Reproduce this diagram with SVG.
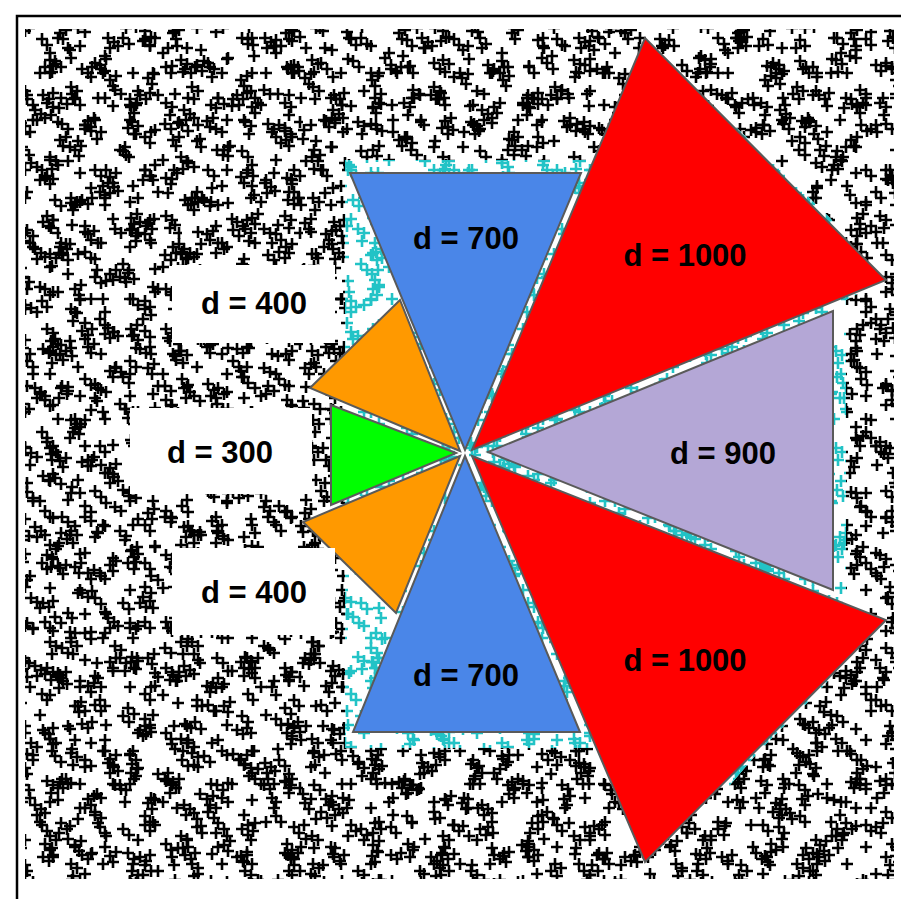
<svg xmlns="http://www.w3.org/2000/svg" xmlns:xlink="http://www.w3.org/1999/xlink" width="901" height="899" viewBox="0 0 901 899">
<style>
.k{stroke:#000;stroke-width:2.6;fill:none}
.cy{stroke:#22c3c6;stroke-width:2.6;fill:none}
.sh{stroke:#5a5a5a;stroke-width:2;stroke-linejoin:miter}
.lbl{font-family:"Liberation Sans",Arial,Helvetica,sans-serif;font-weight:bold;font-size:31px;fill:#000;text-anchor:middle}
</style>
<defs>
<path id="ca" d="M8 12h12M14 6v12M14 16h12M20 10v12M12 24h12M18 18v12M49 30h12M55 24v12M55 27h12M61 21v12M52 36h12M58 30v12M84 60h12M90 54v12M90 66h12M96 60v12M29 70h12M35 64v12M74 15h12M80 9v12M14 88h12M20 82v12M64 95h12M70 89v12M39 50h12M45 44v12M94 95h12M100 89v12"/>
<path id="cb" d="M4 40h12M10 34v12M10 44h12M16 38v12M6 52h12M12 46v12M39 12h12M45 6v12M64 60h12M70 54v12M70 56h12M76 50v12M67 66h12M73 60v12M99 20h12M105 14v12M104 26h12M110 20v12M112 75h12M118 69v12M34 85h12M40 79v12M84 85h12M90 79v12M24 30h12M30 24v12"/>
<path id="cc" d="M24 10h12M30 4v12M29 16h12M35 10v12M64 40h12M70 34v12M70 44h12M76 38v12M74 38h12M80 32v12M9 70h12M15 64v12M15 76h12M21 70v12M44 95h12M50 89v12M50 100h12M56 94v12M79 110h12M85 104v12M4 118h12M10 112v12M54 65h12M60 59v12"/>
<path id="cd" d="M14 30h12M20 24v12M20 34h12M26 28v12M16 40h12M22 34v12M24 38h12M30 32v12M94 10h12M100 4v12M100 14h12M106 8v12M54 70h12M60 64v12M60 66h12M66 60v12M58 76h12M64 70v12M124 90h12M130 84v12M130 96h12M136 90v12M122 100h12M128 94v12M34 120h12M40 114v12M40 126h12M46 120v12M84 115h12M90 109v12M134 50h12M140 44v12M74 40h12M80 34v12M4 90h12M10 84v12"/>
<pattern id="pA" width="113" height="107" x="5" y="3" patternUnits="userSpaceOnUse"><use href="#ca" class="k"/></pattern>
<pattern id="pB" width="131" height="97" x="40" y="20" patternUnits="userSpaceOnUse"><use href="#cb" class="k"/></pattern>
<pattern id="pC" width="97" height="127" x="70" y="55" patternUnits="userSpaceOnUse"><use href="#cc" class="k"/></pattern>
<pattern id="pD" width="149" height="139" x="15" y="80" patternUnits="userSpaceOnUse"><use href="#cd" class="k"/></pattern>
<pattern id="pE" width="121" height="111" x="61" y="47" patternUnits="userSpaceOnUse"><use href="#cb" class="k"/></pattern>
<pattern id="pF" width="119" height="113" x="33" y="91" patternUnits="userSpaceOnUse"><use href="#ca" class="k"/></pattern>
<pattern id="pG" width="103" height="131" x="12" y="29" patternUnits="userSpaceOnUse"><use href="#cc" class="k"/></pattern>
<pattern id="pH" width="157" height="145" x="88" y="8" patternUnits="userSpaceOnUse"><use href="#cd" class="k"/></pattern>
<pattern id="qA" width="113" height="107" x="5" y="3" patternUnits="userSpaceOnUse"><use href="#ca" class="cy"/></pattern>
<pattern id="qB" width="131" height="97" x="40" y="20" patternUnits="userSpaceOnUse"><use href="#cb" class="cy"/></pattern>
<pattern id="qC" width="97" height="127" x="70" y="55" patternUnits="userSpaceOnUse"><use href="#cc" class="cy"/></pattern>
<pattern id="qD" width="149" height="139" x="15" y="80" patternUnits="userSpaceOnUse"><use href="#cd" class="cy"/></pattern>
<pattern id="qE" width="121" height="111" x="61" y="47" patternUnits="userSpaceOnUse"><use href="#cb" class="cy"/></pattern>
<pattern id="qF" width="119" height="113" x="33" y="91" patternUnits="userSpaceOnUse"><use href="#ca" class="cy"/></pattern>
<pattern id="qG" width="103" height="131" x="12" y="29" patternUnits="userSpaceOnUse"><use href="#cc" class="cy"/></pattern>
<pattern id="qH" width="157" height="145" x="88" y="8" patternUnits="userSpaceOnUse"><use href="#cd" class="cy"/></pattern>
<clipPath id="cyclip"><polygon points="345,160 600,160 720,112 760,150 830,218 880,282 846,300 846,600 880,620 820,690 760,750 730,785 600,748 345,748"/></clipPath>
<clipPath id="area"><rect x="25" y="29" width="869" height="850"/></clipPath>
</defs>
<rect x="0" y="0" width="901" height="899" fill="#fff"/>
<g id="scatter" clip-path="url(#area)">
<rect x="0" y="0" width="901" height="899" fill="url(#pA)"/>
<rect x="0" y="0" width="901" height="899" fill="url(#pB)"/>
<rect x="0" y="0" width="901" height="899" fill="url(#pC)"/>
<rect x="0" y="0" width="901" height="899" fill="url(#pD)"/>
<rect x="0" y="0" width="901" height="899" fill="url(#pE)"/>
<rect x="0" y="0" width="901" height="899" fill="url(#pF)"/>
<rect x="0" y="0" width="901" height="899" fill="url(#pG)"/>
<rect x="0" y="0" width="901" height="899" fill="url(#pH)"/>
</g>
<g id="scatter-cyan" clip-path="url(#cyclip)">
<rect x="0" y="0" width="901" height="899" fill="#fff"/>
<rect x="0" y="0" width="901" height="899" fill="url(#qA)"/>
<rect x="0" y="0" width="901" height="899" fill="url(#qB)"/>
<rect x="0" y="0" width="901" height="899" fill="url(#qC)"/>
<rect x="0" y="0" width="901" height="899" fill="url(#qD)"/>
<rect x="0" y="0" width="901" height="899" fill="url(#qE)"/>
<rect x="0" y="0" width="901" height="899" fill="url(#qF)"/>
<rect x="0" y="0" width="901" height="899" fill="url(#qG)"/>
<rect x="0" y="0" width="901" height="899" fill="url(#qH)"/>
</g>
<path id="frame" d="M17 899V16H901" fill="none" stroke="#000" stroke-width="2.5"/>
<g id="sector-blue-top"><polygon class="sh" fill="#4a86e8" points="350,173 581,173 465,450"/><text class="lbl" x="466" y="249">d = 700</text></g>
<g id="sector-red-top"><polygon class="sh" fill="#ff0000" points="472,450 645,38 886,280"/><text class="lbl" x="685" y="266">d = 1000</text></g>
<g id="sector-lavender"><polygon class="sh" fill="#b4a7d6" points="488,452 833,311 833,590"/><text class="lbl" x="723" y="464">d = 900</text></g>
<g id="sector-red-bottom"><polygon class="sh" fill="#ff0000" points="472,456 886,620 645,862"/><text class="lbl" x="685" y="671">d = 1000</text></g>
<g id="sector-blue-bottom"><polygon class="sh" fill="#4a86e8" points="465,456 353,732 580,732"/><text class="lbl" x="466" y="686">d = 700</text></g>
<g id="sector-orange-top"><polygon class="sh" fill="#ff9900" points="460,451 310,388 400,300"/></g>
<g id="sector-green"><polygon class="sh" fill="#00ff00" points="456,453 331,405 331,505"/></g>
<g id="sector-orange-bottom"><polygon class="sh" fill="#ff9900" points="460,456 303,522 396,613"/></g>
<g id="label-400-top"><rect x="172" y="265" width="163" height="78" fill="#fff"/><text class="lbl" x="254" y="314">d = 400</text></g>
<g id="label-300"><rect x="130" y="408" width="182" height="86" fill="#fff"/><text class="lbl" x="220" y="463">d = 300</text></g>
<g id="label-400-bottom"><rect x="172" y="548" width="163" height="87" fill="#fff"/><text class="lbl" x="254" y="603">d = 400</text></g>
<g id="connectors"/>
</svg>
